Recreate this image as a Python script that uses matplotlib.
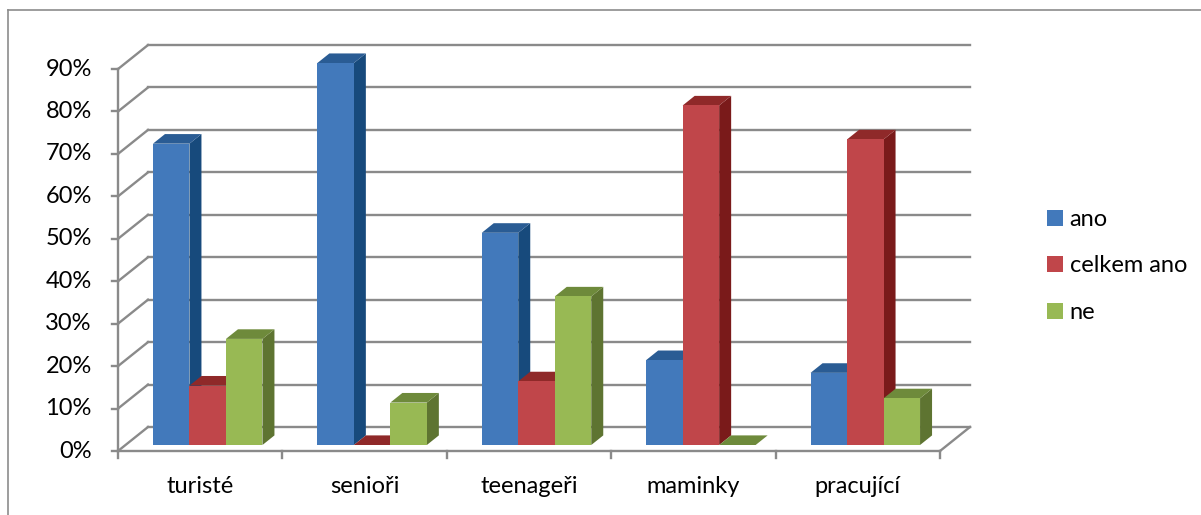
import matplotlib
matplotlib.use("Agg")
from matplotlib import pyplot as plt
from matplotlib.patches import Polygon, Patch
from matplotlib.lines import Line2D
import numpy as np

plt.rcParams['font.family'] = ['Lato', 'DejaVu Sans']

categories = ["turisté", "senioři", "teenageři", "maminky", "pracující"]
series = ["ano", "celkem ano", "ne"]
ano = [71, 90, 50, 20, 17]
celkem_ano = [14, 0, 15, 80, 72]
ne = [25, 10, 35, 0, 11]
yticks = [0, 10, 20, 30, 40, 50, 60, 70, 80, 90]
ytick_labels = [f"{t}%" for t in yticks]

# front, side, top colours per series
colors = [("#4279bb", "#174a7c", "#2a5c94"),
          ("#c0464a", "#7a1a1a", "#8f2929"),
          ("#98b954", "#5e7431", "#6e8a3b")]

W, H = 1201, 515
fig = plt.figure(figsize=(W / 100, H / 100), dpi=100)

# pixel geometry of the fake 3d box
px_left, px_right, px_front, px_top = 118, 972, 451, 45
cell = 164.4
per10 = 42.44
ddx = 30 / cell
ddy = 24 / per10 * 10

x0 = -0.5
x1 = x0 + (px_right - px_left) / cell
y1 = (px_front - px_top) / per10 * 10
ax = fig.add_axes([px_left / W, (H - px_front) / H, (px_right - px_left) / W, (px_front - px_top) / H])
ax.set_xlim(x0, x1)
ax.set_ylim(0, y1)
ax.axis("off")

n = len(categories)
grid_c = "#8a8a8a"
lw = 1.7
fs = 17

# back wall gridlines + left wall diagonals
for t, lab in zip(yticks, ytick_labels):
    ax.plot([x0 + ddx, n - 0.5 + ddx], [t + ddy, t + ddy], color=grid_c, lw=lw, zorder=1, clip_on=False)
    ax.plot([x0, x0 + ddx], [t, t + ddy], color=grid_c, lw=lw, zorder=1, clip_on=False)
    ax.plot([x0 - 0.037, x0], [t, t], color=grid_c, lw=lw, zorder=1, clip_on=False)
    ax.text(x0 - 0.16, t, lab, ha="right", va="center", fontsize=fs, color="black")

# floor edges and front axes
ax.plot([x0, n - 0.5], [0, 0], color=grid_c, lw=lw, zorder=1, clip_on=False)
ax.plot([n - 0.5, n - 0.5 + ddx], [0, ddy], color=grid_c, lw=lw, zorder=1, clip_on=False)
ax.plot([x0, x0], [0, yticks[-1]], color=grid_c, lw=lw, zorder=1, clip_on=False)
for k in range(n + 1):
    ax.plot([x0 + k, x0 + k], [0, -1.7], color=grid_c, lw=lw, zorder=1, clip_on=False)
for i, c in enumerate(categories):
    ax.text(i, -8.4, c, ha="center", va="center", fontsize=fs, color="black")

# bars
f0, f1 = 0.25, 0.65
bw = 36.5 / cell
data = [ano, celkem_ano, ne]
base = f0 * ddy
shift = f0 * ddx
bdx = (f1 - f0) * ddx
bdy = (f1 - f0) * ddy
z = 2
for i in range(n):
    for j in range(len(series)):
        v = data[j][i]
        xl = i - 1.5 * bw + j * bw + shift
        xr = xl + bw
        front, side, top = colors[j]
        if v > 0:
            ax.add_patch(Polygon([(xr, base), (xr, base + v), (xr + bdx, base + v + bdy), (xr + bdx, base + bdy)],
                                 closed=True, facecolor=side, edgecolor="none", zorder=z))
        ax.add_patch(Polygon([(xl, base + v), (xr, base + v), (xr + bdx, base + v + bdy), (xl + bdx, base + v + bdy)],
                             closed=True, facecolor=top, edgecolor="none", zorder=z + 0.1))
        if v > 0:
            ax.bar(xl, v, width=bw, bottom=base, align="edge", color=front, edgecolor="none", zorder=z + 0.2)
        z += 1

# legend
handles = [Patch(facecolor=colors[j][0], edgecolor="none") for j in range(len(series))]
fig.legend(handles, series, loc="center left", bbox_to_anchor=(1038 / W, 1 - 266 / H), frameon=False,
           fontsize=fs, handlelength=0.64, handleheight=0.64, handletextpad=0.3, labelspacing=1.08,
           borderaxespad=0)

# chart border
fig.add_artist(Line2D([8 / W, 8 / W], [0, 1 - 10 / H], color="#8c8c8c", lw=1.2))
fig.add_artist(Line2D([8 / W, 1], [1 - 10 / H, 1 - 10 / H], color="#8c8c8c", lw=1.2))

fig.savefig("out.png", dpi=100)
